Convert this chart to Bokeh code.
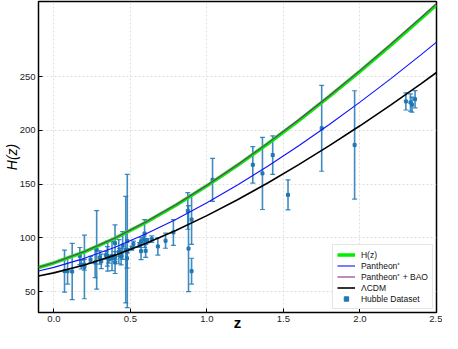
import numpy as np
from bokeh.plotting import figure
from bokeh.models import (ColumnDataSource, Range1d, FixedTicker, PrintfTickFormatter,
                          Legend, LegendItem)
from bokeh.embed import file_html
from bokeh.resources import INLINE

# ---- Hubble dataset (z, H(z), sigma) ----
z_obs = [0.07, 0.09, 0.12, 0.17, 0.1791, 0.1993, 0.20, 0.24, 0.27, 0.28,
         0.30, 0.31, 0.34, 0.35, 0.3519, 0.36, 0.38, 0.3802, 0.40, 0.40,
         0.4004, 0.4247, 0.43, 0.44, 0.44, 0.4497, 0.47, 0.4783, 0.48, 0.48,
         0.51, 0.52, 0.56, 0.57, 0.57, 0.59, 0.5929, 0.60, 0.61, 0.64,
         0.6797, 0.73, 0.7812, 0.8754, 0.88, 0.90, 0.90, 1.037, 1.30, 1.363,
         1.43, 1.53, 1.75, 1.965, 2.30, 2.33, 2.34, 2.36]
H_obs = [69, 69, 68.6, 83, 75, 75, 72.9, 79.69, 77, 88.8,
         81.7, 78.17, 83.8, 82.7, 83, 79.93, 81.5, 83, 95, 82.04,
         77, 87.1, 86.45, 82.6, 84.81, 92.8, 89, 80.9, 97, 87.79,
         90.4, 94.35, 93.34, 87.6, 96.8, 98.48, 104, 87.9, 97.3, 98.82,
         92, 97.3, 105, 125, 90, 117, 69, 154, 168, 160,
         177, 140, 202, 186.5, 227, 226, 224, 229]
sig_obs = [19.6, 12, 26.2, 8, 4, 5, 29.6, 2.99, 14, 36.6,
           6.22, 6.74, 3.66, 9.1, 14, 3.39, 1.9, 13.5, 17, 2.03,
           10.2, 11.2, 3.68, 7.8, 1.83, 12.9, 49.6, 9, 62, 2.03,
           1.9, 2.64, 2.3, 7.8, 3.4, 3.18, 13, 6.1, 2.1, 2.99,
           8, 7, 12, 17, 40, 23, 12, 20, 17, 33.6,
           18, 14, 40, 50.4, 8, 8, 7, 8]

# ---- model curves ----
z_model = [-0.1, 0.0, 0.2, 0.4, 0.6, 0.8, 1.0, 1.2, 1.4, 1.6, 1.8, 2.0, 2.2, 2.4, 2.5]
H_fit = [72.4, 76.6, 87.0, 99.6, 114.3, 130.6, 148.4, 167.5, 187.8, 209.2, 231.6, 254.9, 279.2, 304.2, 317.0]
H_pantheon = [69.1, 72.5, 80.9, 91.3, 103.5, 117.3, 132.6, 149.2, 166.9, 185.7, 205.5, 226.3, 248.0, 270.5, 282.2]
H_pantheon_bao = [72.6, 76.8, 87.3, 99.9, 114.7, 131.0, 148.9, 168.0, 188.4, 209.9, 232.3, 255.7, 280.1, 305.2, 318.0]
H_lcdm = [64.5, 67.4, 74.7, 83.9, 94.7, 107.0, 120.7, 135.5, 151.3, 168.1, 185.8, 204.3, 223.6, 243.6, 253.9]

x_ticks = [0.0, 0.5, 1.0, 1.5, 2.0, 2.5]
y_ticks = [50, 100, 150, 200, 250]

FONT = "Liberation Sans"
ERR_COLOR = "#1f77b4"

obs = ColumnDataSource(dict(
    z=z_obs, H=H_obs,
    lo=[h - s for h, s in zip(H_obs, sig_obs)],
    hi=[h + s for h, s in zip(H_obs, sig_obs)],
))
mod = ColumnDataSource(dict(z=z_model, fit=H_fit, pan=H_pantheon, panbao=H_pantheon_bao, lcdm=H_lcdm))

p = figure(width=442, height=333, output_backend="svg", toolbar_location=None,
           x_range=Range1d(-0.1, 2.5), y_range=Range1d(30.5, 320),
           min_border_left=10, min_border_right=6, min_border_top=1, min_border_bottom=10)

p.background_fill_color = "white"
p.border_fill_color = "white"
p.outline_line_color = "black"
p.outline_line_width = 1.5
p.outline_line_alpha = 1

# grid
p.grid.grid_line_color = "#d6d6d6"
p.grid.grid_line_dash = "2 2"
p.grid.grid_line_width = 0.8

# axes
for ax in (p.xaxis[0], p.yaxis[0]):
    ax.axis_line_color = None
    ax.major_tick_in = 4
    ax.major_tick_out = 0
    ax.major_tick_line_color = "black"
    ax.major_tick_line_width = 1
    ax.minor_tick_line_color = None
    ax.major_label_text_font = FONT
    ax.major_label_text_font_size = "9.5px"
    ax.major_label_text_color = "#222222"
    ax.major_label_standoff = 3
    ax.axis_label_text_font = FONT
    ax.axis_label_text_color = "black"

p.xaxis.ticker = FixedTicker(ticks=x_ticks)
p.xaxis.formatter = PrintfTickFormatter(format="%.1f")
p.yaxis.ticker = FixedTicker(ticks=y_ticks)
p.yaxis.formatter = PrintfTickFormatter(format="%d")

p.xaxis.axis_label = "z"
p.xaxis.axis_label_text_font_style = "bold"
p.xaxis.axis_label_text_font_size = "15px"
p.xaxis.axis_label_standoff = -11

p.yaxis.axis_label = "H(z)"
p.yaxis.axis_label_text_font_style = "italic"
p.yaxis.axis_label_text_font_size = "14px"
p.yaxis.axis_label_standoff = -3

# error bars
p.segment(x0="z", y0="lo", x1="z", y1="hi", source=obs, line_color=ERR_COLOR,
          line_width=1.6, line_alpha=0.85)
p.scatter(x="z", y="lo", source=obs, marker="dash", size=5, line_color=ERR_COLOR,
          line_width=1.2, line_alpha=0.85)
p.scatter(x="z", y="hi", source=obs, marker="dash", size=5, line_color=ERR_COLOR,
          line_width=1.2, line_alpha=0.85)
r_pts = p.scatter(x="z", y="H", source=obs, marker="square", size=3,
                  fill_color=ERR_COLOR, line_color=ERR_COLOR)
r_leg_bar = p.scatter(x=[], y=[], marker="dash", angle=np.pi / 2, size=5,
                      line_color=ERR_COLOR, line_width=1.5)

# model lines
r_fit = p.line("z", "fit", source=mod, line_color="#00ee00", line_width=3.5)
r_pan = p.line("z", "pan", source=mod, line_color="#1010ff", line_width=1.1)
r_panbao = p.line("z", "panbao", source=mod, line_color="#8a2a8a", line_width=1.1)
r_lcdm = p.line("z", "lcdm", source=mod, line_color="black", line_width=1.6)

legend = Legend(items=[
    LegendItem(label="H(z)", renderers=[r_fit]),
    LegendItem(label="Pantheon\u207a", renderers=[r_pan]),
    LegendItem(label="Pantheon\u207a + BAO", renderers=[r_panbao]),
    LegendItem(label="\u039bCDM", renderers=[r_lcdm]),
    LegendItem(label="Hubble Dataset", renderers=[r_leg_bar, r_pts]),
], location="bottom_right")
legend.label_text_font = FONT
legend.label_text_font_size = "8.5px"
legend.label_text_color = "#111111"
legend.glyph_width = 18
legend.glyph_height = 11
legend.label_height = 10
legend.spacing = 0
legend.padding = 4
legend.margin = 3
legend.label_standoff = 6
legend.border_line_color = "#cccccc"
legend.border_line_width = 1
legend.background_fill_alpha = 1
p.add_layout(legend)

open("out.html", "w").write(file_html(p, INLINE))
